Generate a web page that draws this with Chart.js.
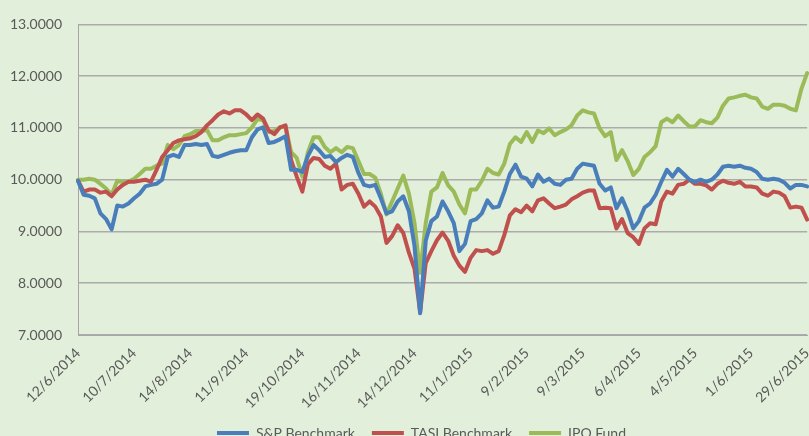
<!DOCTYPE html>
<html>
<head>
<meta charset="utf-8">
<script src="https://cdn.jsdelivr.net/npm/chart.js@4.4.1/dist/chart.umd.min.js"></script>
<style>
    html, body { margin: 0; padding: 0; overflow: hidden; background: #e2efda; }
    #wrap { position: absolute; left: 0; top: 0; width: 821px; height: 450px; }
</style>
</head>
<body>
<div id="wrap"><canvas id="perf-chart"></canvas></div>
<script>
    // Tick labels, one every 10 points
    const tickLabels = ['12/6/2014', '10/7/2014', '14/8/2014', '11/9/2014', '19/10/2014', '16/11/2014',
        '14/12/2014', '11/1/2015', '9/2/2015', '9/3/2015', '6/4/2015', '4/5/2015', '1/6/2015', '29/6/2015'];

    const spValues = [
        9.98, 9.71, 9.69, 9.64, 9.35, 9.24, 9.04, 9.50, 9.48, 9.54,
        9.64, 9.73, 9.87, 9.90, 9.92, 10.00, 10.44, 10.48, 10.44, 10.67,
        10.67, 10.69, 10.67, 10.69, 10.46, 10.44, 10.48, 10.52, 10.55, 10.57,
        10.57, 10.82, 10.97, 11.01, 10.71, 10.73, 10.78, 10.84, 10.19, 10.19,
        10.15, 10.46, 10.67, 10.57, 10.44, 10.46, 10.34, 10.42, 10.48, 10.44,
        10.13, 9.90, 9.87, 9.90, 9.64, 9.35, 9.39, 9.58, 9.68, 9.39,
        8.72, 7.42, 8.82, 9.20, 9.29, 9.58, 9.39, 9.16, 8.62, 8.76,
        9.20, 9.24, 9.35, 9.60, 9.46, 9.48, 9.77, 10.11, 10.29, 10.06,
        10.02, 9.87, 10.10, 9.96, 10.02, 9.92, 9.90, 10.00, 10.02, 10.21,
        10.31, 10.29, 10.27, 9.92, 9.79, 9.85, 9.45, 9.64, 9.39, 9.06,
        9.20, 9.46, 9.54, 9.71, 9.96, 10.19, 10.06, 10.21, 10.11, 10.00,
        9.96, 10.00, 9.96, 10.00, 10.10, 10.25, 10.27, 10.25, 10.27, 10.23,
        10.21, 10.15, 10.02, 10.00, 10.02, 10.00, 9.94, 9.83, 9.90, 9.90,
        9.87
    ];

    const tasiValues = [
        9.98, 9.77, 9.81, 9.81, 9.75, 9.77, 9.68, 9.81, 9.90, 9.96,
        9.96, 9.98, 10.00, 9.96, 10.19, 10.44, 10.57, 10.71, 10.76, 10.78,
        10.80, 10.84, 10.92, 11.05, 11.15, 11.26, 11.32, 11.28, 11.34, 11.34,
        11.26, 11.15, 11.26, 11.18, 10.95, 10.88, 11.01, 11.05, 10.38, 10.06,
        9.77, 10.30, 10.42, 10.40, 10.27, 10.21, 10.31, 9.81, 9.90, 9.92,
        9.73, 9.48, 9.58, 9.48, 9.29, 8.78, 8.91, 9.12, 8.97, 8.59,
        8.28, 7.44, 8.39, 8.62, 8.83, 8.98, 8.82, 8.53, 8.34, 8.22,
        8.49, 8.64, 8.62, 8.64, 8.57, 8.62, 8.93, 9.31, 9.43, 9.37,
        9.50, 9.39, 9.60, 9.64, 9.54, 9.45, 9.48, 9.52, 9.62, 9.68,
        9.75, 9.79, 9.79, 9.45, 9.46, 9.45, 9.06, 9.24, 8.97, 8.89,
        8.76, 9.06, 9.16, 9.14, 9.58, 9.77, 9.73, 9.90, 9.92, 10.00,
        9.92, 9.92, 9.89, 9.81, 9.92, 9.98, 9.94, 9.92, 9.96, 9.87,
        9.87, 9.85, 9.73, 9.69, 9.77, 9.75, 9.68, 9.46, 9.48, 9.46,
        9.23
    ];

    const ipoValues = [
        10.00, 10.00, 10.02, 10.00, 9.92, 9.83, 9.71, 9.98, 9.96, 9.96,
        10.02, 10.11, 10.21, 10.21, 10.27, 10.31, 10.67, 10.59, 10.67, 10.84,
        10.88, 10.94, 10.94, 10.96, 10.76, 10.76, 10.82, 10.86, 10.86, 10.88,
        10.90, 11.01, 11.17, 11.15, 10.92, 10.94, 11.01, 11.03, 10.53, 10.42,
        10.06, 10.53, 10.82, 10.82, 10.63, 10.53, 10.61, 10.53, 10.63, 10.61,
        10.36, 10.11, 10.11, 10.04, 9.73, 9.33, 9.58, 9.83, 10.08, 9.73,
        9.16, 8.20, 9.16, 9.77, 9.85, 10.13, 9.89, 9.77, 9.52, 9.35,
        9.81, 9.81, 9.98, 10.21, 10.13, 10.10, 10.31, 10.69, 10.82, 10.73,
        10.92, 10.73, 10.95, 10.90, 10.99, 10.86, 10.92, 10.97, 11.05, 11.24,
        11.34, 11.30, 11.28, 10.99, 10.84, 10.92, 10.38, 10.57, 10.36, 10.09,
        10.21, 10.44, 10.53, 10.65, 11.11, 11.18, 11.11, 11.24, 11.13, 11.03,
        11.03, 11.15, 11.11, 11.09, 11.20, 11.43, 11.57, 11.59, 11.62, 11.64,
        11.59, 11.57, 11.41, 11.37, 11.45, 11.45, 11.43, 11.37, 11.34, 11.76,
        12.06
    ];

    const TICK_EVERY = 10;
    const textColor = '#595959';
    const fontFamily = 'Lato, "Liberation Sans", sans-serif';

    // nudge the legend a little to the right, like the original
    const legendShift = {
        id: 'legendShift',
        afterLayout: function(chart) {
            chart.legend.left += 11;
            chart.legend.right += 11;
        }
    };

    function createChart() {
        const ctx = document.getElementById('perf-chart');
        const labels = spValues.map((v, i) => i);

        new Chart(ctx, {
            type: 'line',
            data: {
                labels: labels,
                datasets: [{
                    label: 'S&P Benchmark',
                    data: spValues,
                    borderColor: '#4a7ebb',
                    backgroundColor: '#4a7ebb'
                }, {
                    label: 'TASI Benchmark',
                    data: tasiValues,
                    borderColor: '#c0504d',
                    backgroundColor: '#c0504d'
                }, {
                    label: 'IPO Fund',
                    data: ipoValues,
                    borderColor: '#9bbb59',
                    backgroundColor: '#9bbb59'
                }]
            },
            plugins: [legendShift],
            options: {
                responsive: true,
                maintainAspectRatio: false,
                animation: false,
                elements: {
                    line: { borderWidth: 4, tension: 0, borderJoinStyle: 'round', borderCapStyle: 'round' },
                    point: { radius: 0 }
                },
                layout: {
                    padding: { top: 12, left: 0, right: 0, bottom: 0 }
                },
                plugins: {
                    legend: {
                        position: 'bottom',
                        labels: {
                            boxWidth: 32,
                            boxHeight: 4,
                            padding: 17,
                            color: textColor,
                            font: { family: fontFamily, size: 14 },
                            generateLabels: function(chart) {
                                return Chart.defaults.plugins.legend.labels.generateLabels(chart).map(function(item) {
                                    item.lineWidth = 0;
                                    item.fillStyle = item.strokeStyle;
                                    return item;
                                });
                            }
                        }
                    },
                    tooltip: { enabled: false }
                },
                scales: {
                    x: {
                        grid: { display: false },
                        border: { display: true, color: '#a6a6a6' },
                        ticks: {
                            autoSkip: false,
                            minRotation: 45,
                            maxRotation: 45,
                            padding: 2,
                            color: textColor,
                            font: { family: fontFamily, size: 14 },
                            callback: function(value, index) {
                                return index % TICK_EVERY === 0 ? tickLabels[index / TICK_EVERY] : '';
                            }
                        },
                        afterFit: function(scale) {
                            scale.height = 74;
                        }
                    },
                    y: {
                        min: 7,
                        max: 13,
                        grid: { color: '#ababab', lineWidth: 1.5, drawTicks: false },
                        border: { display: true, color: '#a6a6a6', width: 1 },
                        ticks: {
                            stepSize: 1,
                            padding: 16,
                            color: textColor,
                            font: { family: fontFamily, size: 14 },
                            callback: function(value) {
                                return value.toFixed(4);
                            }
                        },
                        afterFit: function(scale) {
                            scale.width = 78;
                        }
                    }
                }
            }
        });
    }

    createChart();
</script>
</body>
</html>
